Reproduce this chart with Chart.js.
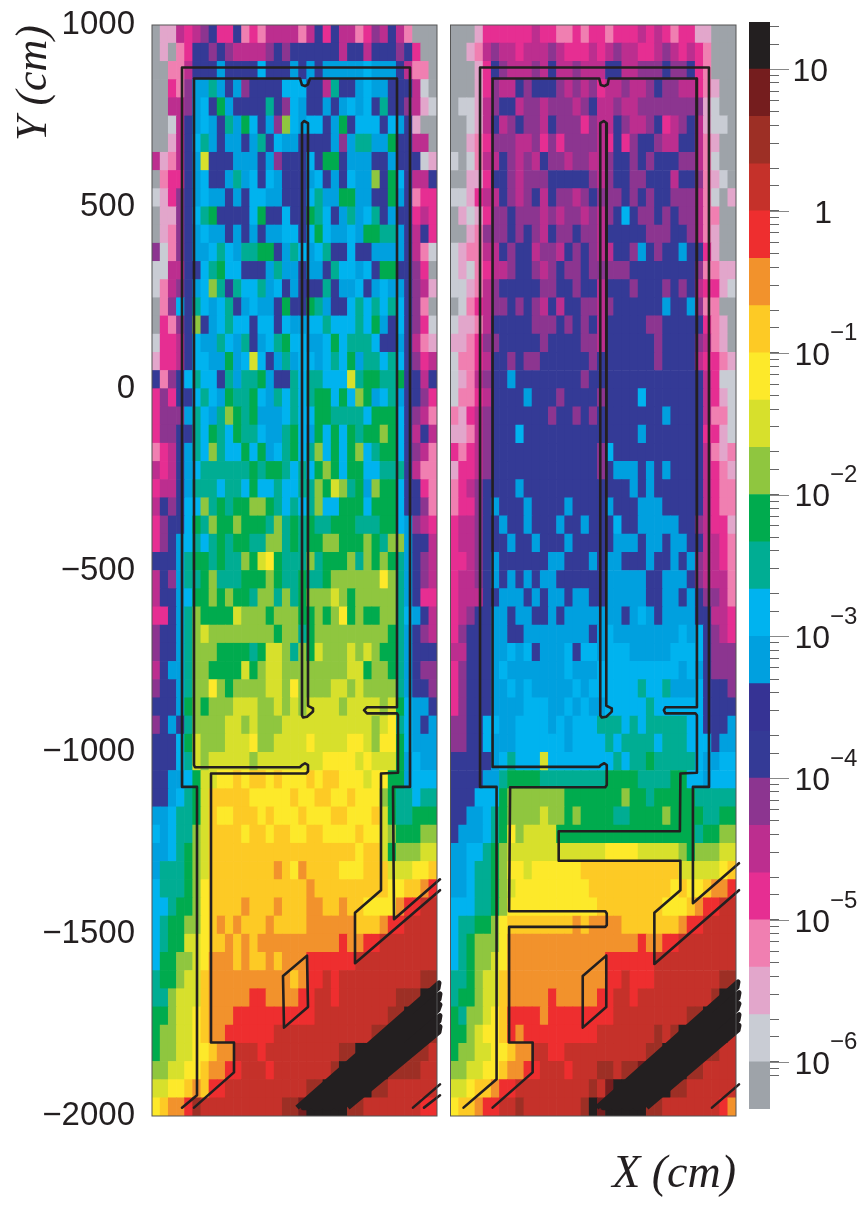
<!DOCTYPE html>
<html>
  <head>
    <meta charset="utf-8" />
    <script src="https://cdn.jsdelivr.net/npm/chart.js"></script>
    <style>
      html, body { margin: 0; padding: 0; background: #fff; overflow: hidden; }
      canvas { position: absolute; top: 0; }
    </style>
  </head>
  <body>
    <canvas id="panel_left" width="445" height="1205" style="left: 0"></canvas>
    <canvas id="panel_right" width="297" height="1205" style="left: 445px"></canvas>
    <canvas id="color_bar" width="114" height="1205" style="left: 749px"></canvas>
    <script>
      // Colour levels, lowest first. One letter per level in the cell rows below
      const level_keys = "abcdefghijklmnopqrstuvw";
      const level_colors = [
        "#9ea3a9", "#c9ccd4", "#e2a6cb", "#f07fb1", "#e62e92", "#bc2e8f",
        "#8c3590", "#343a96", "#363394", "#00a0df", "#00b3ef", "#00ad93",
        "#00ab4e", "#8fc63f", "#d7e02c", "#fde92a", "#fdca25", "#f2922c",
        "#ee2e2f", "#c5312a", "#9d2f25", "#751d1e", "#231f20",
      ];
      const level_edges = [
        4.64e-7, 1e-6, 2.15e-6, 4.64e-6, 1e-5, 2.15e-5, 4.64e-5, 1e-4,
        2.15e-4, 4.64e-4, 1e-3, 2.15e-3, 4.64e-3, 1e-2, 2.15e-2, 4.64e-2,
        0.1, 0.215, 0.464, 1, 2.15, 4.64, 10, 21.5,
      ];

      // Cell rows, top (Y = 1000) to bottom (Y = -2000), 35 columns
      const left_rows = [
        "accfefgheehdedffffdfhehffdegfhfdaaa",
        "acadehhghgffffghghhhhhhfhhfhhhgheaa",
        "aaddfhhhjhhhhkhhhjhjhjjjjjkjjjhfdda",
        "aaedgjjljhjghhhhkkkhhflhhjkjjhhhfba",
        "aaffgjkhmjhhhhlhgkjhhjhjkjkhlhhgfcb",
        "aabfhjkjhljmkhjgnkjkkhjmhkkkhkjhcaa",
        "aacfhkljhjjhjlhkjjhhhhjgjlljjmhhffa",
        "fcdfhjohhhjjjhjghhhkhmmhjjjhhjhhhbc",
        "adeehjkhhjljkhkjhhhjkhjhkjjnhmkhffh",
        "bceghjkjjhjhkkjjhhhkljjmmjjhhmjhdee",
        "accghklmhhhhkmhhkhhmlkhjljklhjhhefe",
        "acdghjkjjhjhjhjjkkhkmkjjkjmmlljhfhe",
        "gbdghjjklkjllmmhjlkjklhhkhhjjjjhfdb",
        "bbffhhklmkkhhhjljjhjjhlkkjkhmmhhgea",
        "bdfghjknlhlkkljkhjhhhlhjjkhjkjjhgfc",
        "adgkhlkjklhjkjjhmhhmljhhklklklkhgda",
        "aedghnhjklkkhkkhkjjkklkkklkmjhkhgeb",
        "beefhkjjlkjlhjklmkkjjkmklllkhhjhfdc",
        "ceefhkkjjmjkokhjljkkjklkmjllklkhgef",
        "hdghklkkhljllmjhhlkllkkkolmmllmhhfh",
        "egehhklkjmllmkjlklklmmkmknmjkljhhge",
        "egggjlkjlnmlmjjjklkkmmllllkmmmkhgfd",
        "egghhlkmlkmllkjjlmkjmkmkmlmmnmkhfhf",
        "defhjlknlkkmkmjklmklnkmkmnklmmkhgfd",
        "fefhjkllllllmlmmlklkmnmkmmkklllhfdd",
        "effhjlllkllkmkklkkllnmonlmjnmmkhhed",
        "fhghkknlmlmmnnmlklklnkkmmmkmmmkhhgd",
        "eghhkmlnmmnmmmlnlmlmllmmmlllmmkjgfe",
        "eghjklklmlmmllnnlmlmmnnmmmnmlnnjhhf",
        "hhhjlmmlmllnmopmlllnlmmmnlnmnmljhgf",
        "fhgjllmnlllmmmnmllmllmnnnnnnpnljhgf",
        "fhhjkmmnmnmmlnnlnlmnnnonmnnnnnljhee",
        "eehjlnmmmmonnnmnnnmmnmnpmnmmnnlkjhf",
        "ghhjlnonnnnnnnnmnnlmnnnnnnnnnmljhgf",
        "ghhjlnnnmmmmlmoonlnmonnnononmmljhhh",
        "fhjjlnnmmmmomnoonnnnnnnnoomnnmljhgg",
        "ghhjlnnpnmnnnnoonpnnnnoononnnnljhhg",
        "hhhjmnmnnnooonnonono" + "ooonoooono" + "mkjjh",
        "ghjhlnnnnoononnnoooo" + "ooooooonop" + "lkjhj",
        "hhhkmonnnooopnnoooop" + "oooopponpp" + "mkjjj",
        "hhhklonooooonooooooo" + "oppppopooo" + "mjkjj",
        "hhjjkmooppqpqqpqpppq" + "pqqpppoppm" + "mjkkk",
        "hhjklmoqqqqqpppppqpp" + "qqppqpppnm" + "llkll",
        "jjkllmoqppqqqpqpppqp" + "ppqqpppqom" + "llmmm",
        "kjkllnoqqqqpqqpqqppq" + "qppppqppon" + "mmmnn",
        "jjklmnoqqqqqqqqqqqqq" + "qqqqqpqqom" + "nnnoo",
        "jlllmnoqqqqqqqqrqprq" + "qqqpppqqqo" + "ooppq",
        "klllmnpqqqqqqqqqqqqr" + "qqqqqqqqqp" + "pqqrs",
        "kklmmnpqqqqrqqqrqqqr" + "rqqrqqpppp" + "rsstt",
        "klmmnnpqrqrqqqrqqqqr" + "rrrrrqqqrs" + "stttt",
        "klmmoopqqrqrqrrrrrrr" + "rrrsrrsstt" + "ttttt",
        "kmmnnoprrrqrqqrqrrrs" + "sssssttttt" + "ttttt",
        "lmmnooqrrrrrrrrrrqrs" + "ststtttttt" + "tttuu",
        "llnoooqrrrrrssrrrrss" + "ttsttttttt" + "uuuww",
        "mmnoopqrrrssssssssss" + "tttttttttu" + "uwwww",
        "mnnoopqrrssssssttttt" + "tttttttuuw" + "wwwwu",
        "mnnooppqrrtttstttttt" + "tttuuwwwww" + "wuuut",
        "nnooppqrrsstttsttttt" + "ttuwwwwwwu" + "uuutt",
        "ooppqrqssttttttttttu" + "uwwwwwwuut" + "ttttt",
        "pqrrsuttttttttttuuvw" + "wwwwuutttt" + "tttss",
      ];

      const right_rows = [
        "aaaceeeeeefeeddedeedeeefefedeeccaaa",
        "aacdfgffefffgfeeefefgffeefgfefedaaa",
        "aaacehgfffgfhffgfffhhffggghgghedaaa",
        "aaacegffhghhhgfgfgeffgffghggffedcaa",
        "abbcfghhfggfgggfghffgffggggggggcbaa",
        "aabcfhfghggfhgggegffhgffghefghfcbba",
        "aacdegggffgegeggggfeheghhgffhhfdcaa",
        "babdffhgfgfhggfggffghhghghhhggfdbaa",
        "aaccehhgfggghhhhhgfghhgghhhfhhgdcba",
        "bbceffhgfghfhggfghggghghghhgggfdbac",
        "acbcegghgggfgfggfgfghkhgghghggfddaa",
        "aacdggghghgfhgghggfhhhhhggghhgfdcaa",
        "bcddffhghhfggfhghgffhhgjhghhjhhecaa",
        "bcbdeffghhgfghgghggggghhhhhhhhgddcc",
        "bbcdfghhhhhgghhghhfhhhghhhghghfeecb",
        "abdefgghghgfhfhhggfghhhhhhjhhjgddaa",
        "bccdfhhhhhggghghghfhhhhhgghhhhhedca",
        "ccdegghhhhhghhhhggfhhhhhhghhhhgfdca",
        "bddefhhghgghhhhhhghhhhhhhghhhhfeedc",
        "bcdfghhjhhhhhhhhghhhhhhhhhhhhhhfebb",
        "bddefhhhhjhhhghhhhghhhhkhhhhhhhfecb",
        "dcefghhhhhhhghhghghhhhhhhhjhhhhfddb",
        "ccdfghhhkhhhhhhhhhhhhhhjhhhhhhheecb",
        "edefghhhhhhhhhhhhhgkhhhhhhhhhhhfdcd",
        "ceefghhhhhhhhhhhhhghjjjhjhjhhhhfedc",
        "defghhhhjhhhhhhhhhhhhhjhjhhhhhhfedd",
        "deeghjhhhjhhhhjhhhhjhhhjjjhhhhhfedd",
        "effghhjhhjhhhjhhjhhhkhhjjjjjhhgfeec",
        "effghhhjhhjhhhjhhhhhjjjhjjhjjhhffed",
        "eefghjhhhhhhjjhhhjhjjhhhjhhjhjgffed",
        "effghjhjhjhjjhhhhhhjjjjjhhjjjhgfffd",
        "efffhhjjjhjhjjhjjhhjjjjjhhjjhjhggfd",
        "efghhjjhjjhhjhjjjjjjjhjkjhjjjjhhffe",
        "eghhhjjhhjjjjjjjjhjkjjjjjjjjkjkhgfe",
        "ffhhhjjkjkhjjjkhkkjkkkjjjjjkkkkhggg",
        "eghhhjkjjjjjjjkjjjkkkkkkkkkkjkjhggg",
        "eghhhjjkjkjjjjjkjkkkkkklkkljjjkhhhg",
        "eghhhjjjjkkkjjkjkjjkkkkklkkkkkkhhhh",
        "gghhkkjjkkkkjkjkkkll" + "lklklllllk" + "khhhj",
        "gghhkjjjkkkkkkjkkkkl" + "kllllklllk" + "kkhjj",
        "hhhhhjklkkkokkkkkkkk" + "lkllmlllll" + "kjjkk",
        "hhhhjjlmmmmllllllllm" + "mmmllllmmk" + "kjkkk",
        "hhhkkkmnnnnnnnmmmmmm" + "mnmmlmmmmm" + "lllll",
        "hhjjklmnnnnonnmnmmmm" + "llmmmmnmmm" + "mllmm",
        "hjjjklmpnoooommmmmmm" + "mmmmmmmmmm" + "lmmnn",
        "jjkklmnoooooooooooop" + "pppooooonm" + "nnnoo",
        "jjkllmnppoppppppqqqq" + "qqqqqqqqoo" + "ooopq",
        "jjkllmnopppppppppqqq" + "qqqqqqqpqp" + "pqrrs",
        "kkkllmnpppppppppppqq" + "qqqqqqpppq" + "rsstt",
        "kllmmnpqqqqqqqqrqrrr" + "rqqqqqqqrs" + "stttt",
        "klmnnnprrrrrrrrrrrrr" + "rrrsrrsstt" + "ttttt",
        "klmnnoprrrrrrrrrrrrs" + "sssssttttt" + "ttttt",
        "llmnooqrrrrrrrrrrrrs" + "stsssttttt" + "tttuu",
        "lmmnooqrrrrrsrrrrrss" + "ttsttttttt" + "ttuww",
        "mlnnopqssssrssssssss" + "tttttttttu" + "uwwww",
        "mmnoppqsrssssssssstt" + "tttttutuww" + "wwwwt",
        "mnnooppqrrttsstttttt" + "ttttuuwwww" + "wuutt",
        "nnooppqrrsstttstttuu" + "tuuvwwwwwu" + "utttt",
        "oopqqrsstttttttttutv" + "wwwwwwwuut" + "ttttt",
        "pqqrssttutttttttuwvw" + "wwwwuutttt" + "tttsr",
      ];

      // Detector outlines, [X, Y] in axis units
      const left_outlines = [
        [[30, -1977], [45, -1943], [45, -1095], [30, -1095], [30, 883], [258, 883], [258, -1095], [241, -1095], [242, -1459], [288, -1349]],
        [[42, -1977], [82, -1880], [82, -1798], [59, -1798], [59, -1058], [154, -1058], [156, -1053], [156, -1035], [153, -1030], [150, -1035], [148, -1041], [43, -1041], [42, -1035], [42, 853], [148, 853], [150, 835], [153, 832], [156, 837], [158, 853], [245, 853], [245, -876], [215, -876], [212, -884], [215, -893], [245, -893], [246, -898], [246, -1056], [229, -1058], [229, -1379], [203, -1441], [203, -1580], [288, -1379]],
        [[150, 730], [152, 736], [156, 730], [156, -872], [161, -879], [161, -888], [155, -902], [151, -904], [150, -898], [150, 730]],
        [[131, -1615], [155, -1559], [156, -1700], [132, -1757], [131, -1615]],
        [[261, -1977], [288, -1913]],
        [[272, -1977], [288, -1943]],
      ];
      const right_outlines = [
        [[13, -1977], [46, -1899], [46, -1095], [29.5, -1095], [29.5, 883], [258, 883], [258, -1095], [242, -1095], [242, -1415], [288, -1305]],
        [[42, -1977], [82, -1880], [82, -1798], [58.5, -1798], [58.5, -1480], [154.5, -1480], [156, -1475], [156, -1443], [154.5, -1437], [58.5, -1437], [59.5, -1096], [154.5, -1096], [156, -1090], [156, -1035], [153.5, -1030], [150, -1035], [148.5, -1040], [42, -1040], [42, 853], [148.5, 853], [150, 835], [153.5, 832], [157, 837], [158, 853], [245.5, 853], [246, -876], [214.5, -876], [213, -884], [214.5, -893], [244.5, -893], [246, -898], [246, -1056], [229.5, -1058], [229, -1217], [108, -1217], [108, -1298], [229.5, -1298], [229.5, -1379], [203.5, -1441], [203.5, -1582], [288, -1379]],
        [[149.5, 730], [153, 736], [156, 730], [155.5, -872], [161, -879], [161, -888], [155.5, -902], [151, -904], [149.5, -898], [149.5, 730]],
        [[132, -1615], [155.5, -1559], [155.5, -1700], [132, -1757], [132, -1615]],
        [[261, -1977], [288, -1913]],
      ];

      // The closely packed diagonal lines at the lower right
      const left_band = [
        [145, -1977], [287, -1634], [286, -1649], [151, -1977], [156, -1977], [288, -1664],
        [287, -1679], [162, -1977], [168, -1977], [288, -1694], [286, -1709], [173, -1977],
        [179, -1977], [288, -1724], [287, -1739], [185, -1977], [190, -1977], [288, -1754],
        [287, -1769], [196, -1977],
      ];
      const right_band = [
        [146, -1977], [287, -1631], [286, -1646], [152, -1977], [157, -1977], [288, -1661],
        [287, -1676], [163, -1977], [168, -1977], [288, -1691], [286, -1706], [174, -1977],
        [179, -1977], [288, -1721], [287, -1736], [185, -1977], [191, -1977], [288, -1751],
        [287, -1764], [196, -1977],
      ];

      // Y axis and colour bar labels
      const y_ticks_step = 500;
      const bar_tick_values = [10, 1, 1e-1, 1e-2, 1e-3, 1e-4, 1e-5, 1e-6];
      const bar_tick_bases = ["10", "1", "10", "10", "10", "10", "10", "10"];
      const bar_tick_powers = ["", "", "\u22121", "\u22122", "\u22123", "\u22124", "\u22125", "\u22126"];

      const ink = "#231f20";
      const sans = "'Liberation Sans', Arial, sans-serif";
      const serif = "'Liberation Serif', 'Times New Roman', serif";
      const panel_width = 285;

      // One floating bar per cell
      function cell_dataset(rows) {
        const data = [];
        const colors = [];
        const col_width = panel_width / 35;
        rows.forEach((row, r) => {
          for (let c = 0; c < row.length; c++) {
            data.push({ x: (c + 0.5) * col_width, y: [1000 - 50 * (r + 1), 1000 - 50 * r] });
            colors.push(level_colors[level_keys.indexOf(row[c])]);
          }
        });
        return {
          type: "bar",
          data: data,
          backgroundColor: colors,
          grouped: false,
          barPercentage: 1,
          categoryPercentage: 1,
          order: 2,
        };
      }

      function line_dataset(points, width, cap) {
        return {
          type: "scatter",
          data: points,
          showLine: true,
          pointRadius: 0,
          borderColor: ink,
          borderWidth: width,
          borderJoinStyle: "round",
          borderCapStyle: cap,
          fill: false,
          clip: false,
          order: 1,
        };
      }

      const frame_plugin = {
        id: "frame",
        afterDatasetsDraw(chart) {
          const a = chart.chartArea;
          const ctx = chart.ctx;
          ctx.save();
          ctx.strokeStyle = "#555";
          ctx.lineWidth = 1;
          ctx.strokeRect(a.left, a.top, a.right - a.left, a.bottom - a.top);
          ctx.restore();
        },
      };

      function panel_options(is_left) {
        return {
          responsive: false,
          animation: false,
          events: [],
          layout: {
            autoPadding: false,
            padding: is_left
              ? { top: 25, bottom: 89, left: 0, right: 8 }
              : { top: 25, bottom: 0, left: 5.5, right: 6 },
          },
          plugins: { legend: { display: false }, tooltip: { enabled: false } },
          scales: {
            x: {
              type: "linear",
              min: 0,
              max: panel_width,
              offset: false,
              display: !is_left,
              grid: { display: false, offset: false, drawTicks: false },
              border: { display: false },
              ticks: { display: false },
              title: {
                display: !is_left,
                text: "X (cm)",
                align: "end",
                color: ink,
                font: { family: serif, size: 46, style: "italic" },
                padding: { top: 0, bottom: 2 },
              },
              afterFit(scale) {
                if (!is_left) scale.height = 89;
              },
            },
            y: {
              type: "linear",
              min: -2000,
              max: 1000,
              display: is_left,
              grid: { display: false, drawTicks: false },
              border: { display: false },
              ticks: {
                stepSize: y_ticks_step,
                autoSkip: false,
                padding: 17,
                color: ink,
                font: { family: sans, size: 33 },
                callback: (v) => String(v).replace("-", "\u2212"),
              },
              title: {
                display: is_left,
                text: "Y (cm)",
                align: "end",
                color: ink,
                font: { family: serif, size: 44, style: "italic" },
                padding: { top: 8, bottom: 0 },
              },
              afterFit(scale) {
                if (is_left) {
                  scale.width = 152;
                  // the 1000 label may hang over the top of the plot
                  scale.paddingTop = 0;
                  scale.paddingBottom = 0;
                }
              },
            },
          },
        };
      }

      new Chart("panel_left", {
        type: "bar",
        data: {
          datasets: [
            cell_dataset(left_rows),
            ...left_outlines.map((p) => line_dataset(p, 2.6, "round")),
            line_dataset(left_band, 5, "butt"),
          ],
        },
        options: panel_options(true),
        plugins: [frame_plugin],
      });

      new Chart("panel_right", {
        type: "bar",
        data: {
          datasets: [
            cell_dataset(right_rows),
            ...right_outlines.map((p) => line_dataset(p, 2.6, "round")),
            line_dataset(right_band, 5, "butt"),
          ],
        },
        options: panel_options(false),
        plugins: [frame_plugin],
      });

      // Long decade ticks and the 10 with raised power labels
      const bar_label_plugin = {
        id: "bar_labels",
        afterDraw(chart) {
          const y = chart.scales.y;
          const ctx = chart.ctx;
          const edge = chart.chartArea.right;
          ctx.save();
          bar_tick_values.forEach((v, i) => {
            const py = y.getPixelForValue(v);
            ctx.strokeStyle = "#888";
            ctx.lineWidth = 1;
            ctx.beginPath();
            ctx.moveTo(edge, Math.round(py) + 0.5);
            ctx.lineTo(edge + 19, Math.round(py) + 0.5);
            ctx.stroke();
            ctx.fillStyle = ink;
            ctx.textBaseline = "middle";
            ctx.textAlign = "right";
            ctx.font = "32px " + sans;
            const right = bar_tick_powers[i] ? 81 : bar_tick_bases[i] === "1" ? 83 : 79;
            ctx.fillText(bar_tick_bases[i], right, py + 3);
            if (bar_tick_powers[i]) {
              ctx.textAlign = "left";
              ctx.font = "24px " + sans;
              ctx.fillText(bar_tick_powers[i], 81, py - 19);
            }
          });
          ctx.restore();
        },
      };

      new Chart("color_bar", {
        type: "bar",
        data: {
          labels: [""],
          datasets: level_colors.map((color, i) => ({
            data: [[level_edges[i], level_edges[i + 1]]],
            backgroundColor: color,
            grouped: false,
            barPercentage: 1,
            categoryPercentage: 1,
          })),
        },
        options: {
          responsive: false,
          animation: false,
          events: [],
          layout: { autoPadding: false, padding: { top: 22, bottom: 96, left: 0, right: 0 } },
          plugins: { legend: { display: false }, tooltip: { enabled: false } },
          scales: {
            x: { display: false },
            y: {
              type: "logarithmic",
              position: "right",
              min: level_edges[0],
              max: level_edges[level_edges.length - 1],
              border: { display: false },
              grid: { drawOnChartArea: false, drawTicks: true, tickLength: 9, tickColor: "#666", tickWidth: 1 },
              ticks: { autoSkip: false, callback: () => "", padding: 0 },
              afterBuildTicks(scale) {
                scale.ticks = scale.ticks.filter((t) => t.value > 7.9e-7 && t.value < 20.1);
              },
              afterFit(scale) {
                scale.width = 93;
              },
            },
          },
        },
        plugins: [bar_label_plugin],
      });
    </script>
  </body>
</html>
